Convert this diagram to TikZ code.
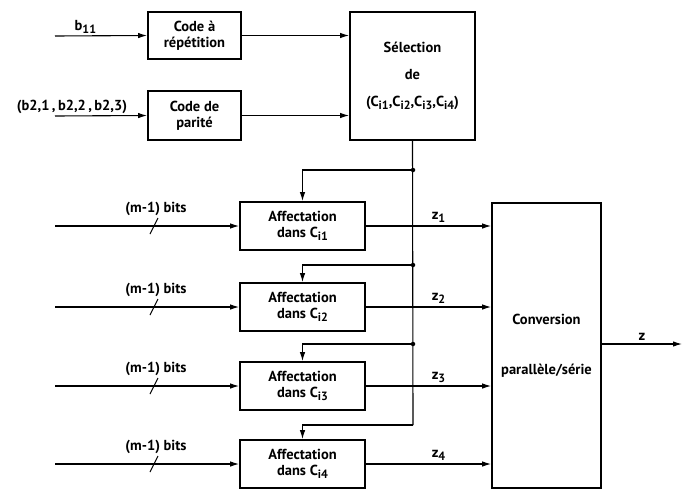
\documentclass[tikz,border=0pt]{standalone}
\usepackage{fontspec}
\setmainfont{PT Sans}
\usepackage{tikz}
\usetikzlibrary{arrows.meta,positioning,calc}
\newcommand{\lowidx}[1]{\raisebox{-2.5pt}{\fontsize{12}{13}\selectfont #1}}

\begin{document}
\begin{tikzpicture}[x=1pt,y=-1pt,font=\fontsize{14.5}{16}\selectfont\bfseries,
  blk/.style={draw,line width=1.8pt,align=center,inner sep=2pt,minimum width=125pt,minimum height=48pt},
  codebox/.style={blk,minimum width=93pt,minimum height=47pt},
  arr/.style={-{Latex[length=9pt,width=5.5pt]},line width=1.1pt},
  wire/.style={line width=1.1pt},
  lbl/.style={inner sep=1pt},
  jdot/.style={circle,fill,inner sep=0pt,minimum size=4.5pt}]
  \useasboundingbox (0,0) rectangle (693,490);
  % coding stage
  \node[codebox] (rep) at (194.5,35.5) {Code à\\répétition};
  \node[codebox,minimum height=49pt] (par) at (194.5,115.5) {Code de\\parité};
  \node[blk,minimum height=128pt] (sel) at (412.5,76) {Sélection\\[11pt] de\\[11pt] (C\lowidx{i1},C\lowidx{i2},C\lowidx{i3},C\lowidx{i4})};
  \coordinate (inb1) at (55,36);
  \coordinate (inb2) at (55,116);
  \draw[arr] (inb1) -- (rep.west) node[lbl,pos=0.33,above=1pt] {b\lowidx{11}};
  \draw[arr] (inb2) -- (par.west);
  \node[lbl,anchor=south] (b2lbl) at (72,115) {(b2,1\,,\,b2,2\,,\,b2,3)};
  \draw[arr] (rep.east) -- (rep.east -| sel.west);
  \draw[arr] (par.east) -- (par.east -| sel.west);
  % mapping blocks
  \foreach \k/\yy in {1/226,2/307,3/386,4/464}{
    \node[blk] (aff\k) at (302.5,\yy) {Affectation\\dans C\lowidx{i\k}};
    \coordinate (in\k) at (55,\yy);
    \draw[arr] (in\k) -- (aff\k.west);
    \draw[wire] ($(in\k)+(95,8)$) -- ++(8,-16);
    \node[lbl] (bits\k) at ($(in\k)+(101,-17)$) {(m-1) bits};
  }
  % selection bus
  \coordinate (j1) at (413,170);
  \coordinate (j2) at (413,265);
  \coordinate (j3) at (413,344);
  \coordinate (j4) at (413,425);
  \draw[wire] (sel.south) -- (j4);
  \foreach \k in {1,2,3,4}{
    \draw[arr] (j\k) -| (aff\k.north);
  }
  \node[jdot] at (j1) {};
  \node[jdot] at (j2) {};
  \node[jdot] at (j3) {};
  % parallel/serial conversion
  \node[blk,minimum width=109pt,minimum height=285pt] (conv) at (546.5,345.5) {Conversion\\[34pt]parallèle/série};
  \foreach \k in {1,2,3,4}{
    \draw[arr] (aff\k.east) -- (aff\k.east -| conv.west) node[lbl,pos=0.58,above=2pt] {z\lowidx{\k}};
  }
  \coordinate (zout) at (682,344);
  \draw[arr] (conv.east |- zout) -- (zout) node[lbl,pos=0.5,above=2pt] {z};
\end{tikzpicture}
\end{document}
